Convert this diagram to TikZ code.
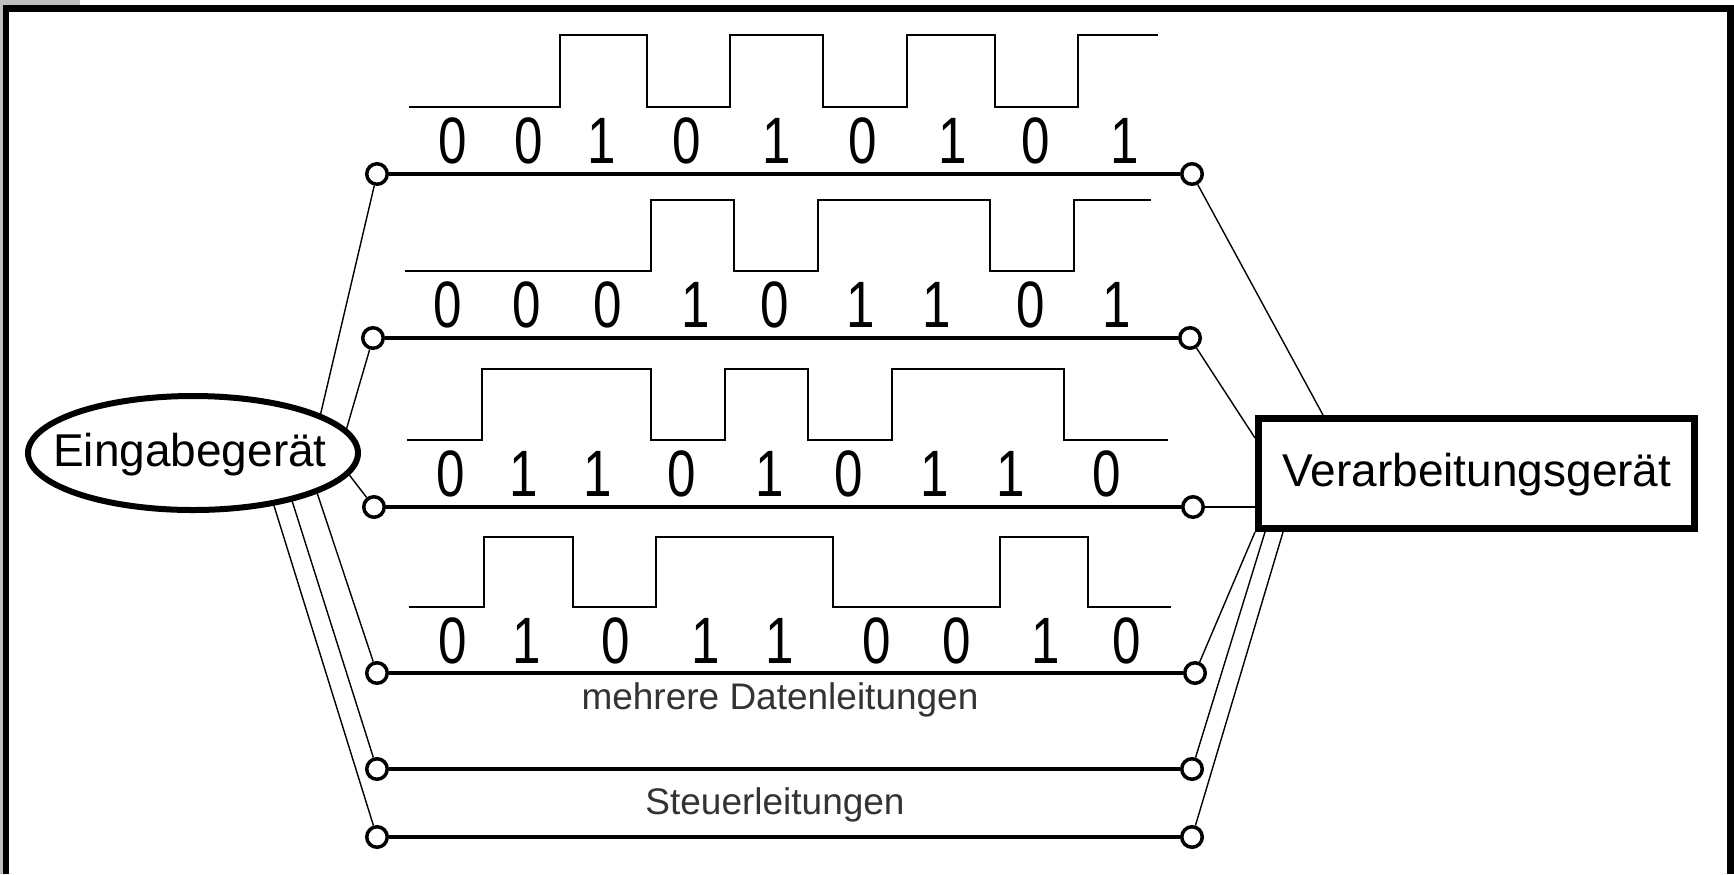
\documentclass[tikz,border=0pt]{standalone}
\usepackage{fontspec}
\setmainfont{Liberation Sans}
\usetikzlibrary{shapes.geometric}
\newcommand{\digitglyph}[1]{\scalebox{0.78}[1]{#1}}
\tikzset{
  frameline/.style={line width=3.5pt},
  dataline/.style={line width=2.2pt},
  wave/.style={line width=1pt},
  conn/.style={line width=0.7pt},
  port/.style={circle, draw, fill=white, line width=1.75pt, minimum size=10.25pt, inner sep=0pt},
  digit/.style={inner sep=0pt, font=\fontsize{32.8}{36}\selectfont},
  devlabel/.style={inner sep=0pt, anchor=base, font=\fontsize{23}{26}\selectfont},
  linelabel/.style={inner sep=0pt, anchor=base, text=black!80, font=\fontsize{18.5}{22}\selectfont}
}
\begin{document}
\begin{tikzpicture}[x=0.5pt,y=-0.5pt]
\useasboundingbox (0,0) rectangle (1734,874);
\fill[white] (0,0) rectangle (1734,874);
% window artefacts and frame
\fill[gray!50] (0,0) rectangle (3,874);
\fill[gray!50] (0,0) rectangle (80,5);
\draw[frameline] (3,8.5) -- (1734,8.5);
\draw[line width=3pt] (6,5) -- (6,874);
\draw[frameline] (1730.5,5) -- (1730.5,874);

% devices
\node[ellipse, draw, line width=3pt, minimum width=165pt, minimum height=57pt, inner sep=0pt] (ein) at (193,453) {};
\node[devlabel] (einlabel) at (190,466) {Eingabegerät};
\node[rectangle, draw, line width=3.5pt, minimum width=218pt, minimum height=55pt, inner sep=0pt] (vg) at (1476.5,473.5) {};
\node[devlabel] (vglabel) at (1477,486) {Verarbeitungsgerät};

% ports
\node[port] (c1l) at (377,174) {};
\node[port] (c2l) at (373,338) {};
\node[port] (c3l) at (374,507) {};
\node[port] (c4l) at (377,673) {};
\node[port] (s1l) at (377,769) {};
\node[port] (s2l) at (377,837) {};
\node[port] (c1r) at (1192,174) {};
\node[port] (c2r) at (1190,338) {};
\node[port] (c3r) at (1193,507) {};
\node[port] (c4r) at (1195,673) {};
\node[port] (s1r) at (1192,769) {};
\node[port] (s2r) at (1192,837) {};

% data and control lines
\draw[dataline] (c1l) -- (c1r);
\draw[dataline] (c2l) -- (c2r);
\draw[dataline] (c3l) -- (c3r);
\draw[dataline] (c4l) -- (c4r);
\draw[dataline] (s1l) -- (s1r);
\draw[dataline] (s2l) -- (s2r);

% connectors to Eingabegeraet
\draw[conn] (c1l) -- (ein.17);
\draw[conn] (c2l) -- (ein.9);
\draw[conn] (c3l) -- (ein.-8);
\draw[conn] (c4l) -- (ein.-18);
\draw[conn] (s1l) -- (ein.-26);
\draw[conn] (s2l) -- (ein.-33);

% connectors to Verarbeitungsgeraet
\draw[conn] (c1r) -- ([xshift=34pt]vg.north west);
\draw[conn] (c2r) -- ([yshift=-11.5pt]vg.north west);
\draw[conn] (c3r) -- (vg.west |- c3r);
\draw[conn] (c4r) -- (vg.south west);
\draw[conn] (s1r) -- ([xshift=5pt]vg.south west);
\draw[conn] (s2r) -- ([xshift=14pt]vg.south west);

% waveforms
\draw[wave] (409,107) -- (560,107) -- (560,35) -- (647,35) -- (647,107) -- (730,107) -- (730,35) -- (823,35) -- (823,107) -- (907,107) -- (907,35) -- (995,35) -- (995,107) -- (1078,107) -- (1078,35) -- (1158,35);
\draw[wave] (405,271) -- (651,271) -- (651,200) -- (734,200) -- (734,271) -- (818,271) -- (818,200) -- (990,200) -- (990,271) -- (1074,271) -- (1074,200) -- (1151,200);
\draw[wave] (407,440) -- (482,440) -- (482,369) -- (651,369) -- (651,440) -- (725,440) -- (725,369) -- (808,369) -- (808,440) -- (892,440) -- (892,369) -- (1064,369) -- (1064,440) -- (1168,440);
\draw[wave] (409,607) -- (484,607) -- (484,537) -- (573,537) -- (573,607) -- (656,607) -- (656,537) -- (833,537) -- (833,607) -- (1000,607) -- (1000,537) -- (1088,537) -- (1088,607) -- (1171,607);

% bits
\foreach \x/\d [count=\i] in {453/0,529/0,602/1,687/0,777/1,863/0,953/1,1036/0,1125/1}
  \node[digit] (ra\i) at (\x,140.5) {\digitglyph{\d}};
\foreach \x/\d [count=\i] in {448/0,527/0,608/0,696/1,775/0,861/1,937/1,1031/0,1117/1}
  \node[digit] (rb\i) at (\x,305) {\digitglyph{\d}};
\foreach \x/\d [count=\i] in {451/0,524/1,598/1,682/0,770/1,849/0,935/1,1011/1,1107/0}
  \node[digit] (rc\i) at (\x,474) {\digitglyph{\d}};
\foreach \x/\d [count=\i] in {453/0,527/1,616/0,706/1,780/1,877/0,957/0,1046/1,1127/0}
  \node[digit] (rd\i) at (\x,640.5) {\digitglyph{\d}};

% line labels
\node[linelabel] (datlabel) at (780,709) {mehrere Datenleitungen};
\node[linelabel] (steuerlabel) at (775,814) {Steuerleitungen};
\end{tikzpicture}
\end{document}
